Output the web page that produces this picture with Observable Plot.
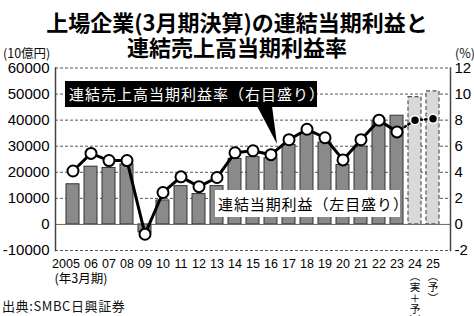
<!DOCTYPE html>
<html><head><meta charset="utf-8">
<script src="https://cdn.jsdelivr.net/npm/d3@7"></script>
<script src="https://cdn.jsdelivr.net/npm/@observablehq/plot@0.6"></script>
<style>
html,body{margin:0;padding:0;background:#fff;}
#wrap{position:relative;width:474px;height:316px;overflow:hidden;font-family:"Noto Sans CJK JP","Liberation Sans",sans-serif;color:#111;}
#chart{position:absolute;left:0;top:0;}
.ov{position:absolute;white-space:nowrap;}
</style></head>
<body>
<div id="wrap">
<div id="chart"></div>
<div class="ov" style="left:0;width:474px;top:9px;text-align:center;font-size:22px;line-height:25px;font-weight:700;color:#000;">上場企業(3月期決算)の連結当期利益と<br>連結売上高当期利益率</div>
<div class="ov" style="left:3px;top:43px;font-size:12.5px;">(10億円)</div>
<div class="ov" style="left:455px;top:43px;font-size:12.5px;">(%)</div>
<div class="ov" style="left:65px;top:81px;width:252px;height:26px;background:#000;color:#fff;font-size:15px;letter-spacing:1px;line-height:26px;padding-left:4px;box-sizing:border-box;">連結売上高当期利益率（右目盛り）</div>
<svg class="ov" style="left:0;top:0;" width="474" height="316"><polygon points="257,106 272,106 277,144" fill="#000"/></svg>
<div class="ov" style="left:215px;top:190px;width:185px;height:27px;background:#fff;color:#000;font-size:15px;letter-spacing:0.9px;line-height:27px;padding-left:3px;box-sizing:border-box;">連結当期利益（左目盛り）</div>
<div class="ov" style="left:2px;top:298px;font-size:13px;letter-spacing:0.6px;line-height:15px;">出典:SMBC日興証券</div>
</div>
<script>
const years = ["2005","06","07","08","09","10","11","12","13","14","15","16","17","18","19","20","21","22","23","24","25"];
const profit = [15400, 22150, 21650, 23000, -3000, 9200, 14700, 11650, 14700, 25100, 25800, 25400, 30500, 35000, 31400, 22800, 29850, 39500, 41700, 48800, 51000];
const margin = [4.1, 5.45, 4.9, 4.9, -0.75, 2.45, 3.65, 2.9, 3.6, 5.5, 5.65, 5.35, 6.5, 7.3, 6.65, 4.95, 6.5, 8.0, 7.1, 8.0, 8.1];
const forecastYears = ["24","25"];
const leftTicks = [-10000, 0, 10000, 20000, 30000, 40000, 50000, 60000];
const rightTicks = [-2, 0, 2, 4, 6, 8, 10, 12];
const subLabels = [{x:"24", t:"︵\n実\n＋\n予\n︶"}, {x:"25", t:"︵\n予\n︶"}];
const PCT = 5000; // 1% on right axis = 5000 on left axis

const data = years.map((y,i)=>({year:y, profit:profit[i], margin:margin[i]*PCT, fc:forecastYears.includes(y)}));
const hist = data.filter(d=>!d.fc);
const fc = data.filter(d=>d.fc);
const dotted = data.slice(data.length-3);

const chart = Plot.plot({
  width:474, height:316,
  marginTop:67.5, marginBottom:66, marginLeft:55, marginRight:24,
  style:{fontFamily:"'Liberation Sans','Noto Sans CJK JP',sans-serif", fontSize:"14px", color:"#000", background:"transparent", overflow:"visible"},
  x:{type:"band", domain:years, paddingInner:0.3, paddingOuter:0.15},
  y:{domain:[-10000,60000]},
  marks:[
    Plot.ruleY(leftTicks.filter(d=>d!==0), {stroke:"#555", strokeDasharray:"3,2", strokeWidth:1}),
    Plot.barY(hist, {x:"year", y:"profit", fill:"#8a8a8a", stroke:"#333", strokeWidth:1}),
    Plot.barY(fc, {x:"year", y:"profit", fill:"#d9d9d9", stroke:"#555", strokeWidth:1.2, strokeDasharray:"4,2.5"}),
    Plot.ruleY([0], {stroke:"#666", strokeWidth:1}),
    Plot.frame({anchor:"left", stroke:"#444", strokeWidth:1.5}),
    Plot.frame({anchor:"right", stroke:"#444", strokeWidth:1.5}),
    Plot.line(hist, {x:"year", y:"margin", stroke:"#000", strokeWidth:3, strokeLinejoin:"round"}),
    Plot.line(dotted, {x:"year", y:"margin", stroke:"#000", strokeWidth:2.5, strokeDasharray:"1.5,3", strokeLinecap:"round"}),
    Plot.dot(hist, {x:"year", y:"margin", r:5.5, fill:"#fff", stroke:"#000", strokeWidth:2}),
    Plot.dot(fc, {x:"year", y:"margin", r:4.5, fill:"#000", stroke:"#fff", strokeWidth:1.5}),
    Plot.axisY(leftTicks, {anchor:"left", tickSize:0, tickPadding:6, tickFormat:d=>`${d}`, fontSize:15, fill:"#000", label:null}),
    Plot.axisY(rightTicks.map(v=>v*PCT), {anchor:"right", tickSize:0, tickPadding:4, tickFormat:d=>`${d/PCT}`, fontSize:15, fill:"#000", label:null}),
    Plot.axisX(years.slice(1), {anchor:"bottom", tickSize:0, tickPadding:9, fontSize:12.5, fill:"#000", label:null}),
    Plot.axisX(years.slice(0,1), {anchor:"bottom", tickSize:0, tickPadding:9, dx:-7, fontSize:12.5, fill:"#000", label:null}),
    Plot.text(years.slice(0,1), {x:d=>d, text:()=>"(年3月期)", frameAnchor:"bottom", dy:32, dx:8, fontSize:12.5, fill:"#000", fontFamily:"'Noto Sans CJK JP',sans-serif"}),
    Plot.text(subLabels, {x:"x", text:"t", frameAnchor:"bottom", lineAnchor:"top", dy:22, fontSize:10.5, lineHeight:1.05, fill:"#000", fontFamily:"'Noto Sans CJK JP',sans-serif"})
  ]
});
document.getElementById("chart").appendChild(chart);
</script>
</body></html>
